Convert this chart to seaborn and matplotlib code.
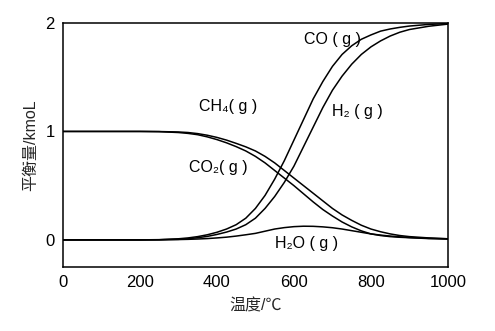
import matplotlib
matplotlib.use("Agg")
import matplotlib.pyplot as plt
import seaborn as sns
import pandas as pd

temperature = [0, 50, 100, 150, 200, 250,
               300, 325, 350, 375, 400, 425, 450, 475, 500, 525, 550, 575, 600,
               625, 650, 675, 700, 725, 750, 775, 800, 825, 850, 875, 900,
               950, 1000]
co = [0, 0, 0, 0, 0, 0.002,
      0.01, 0.018, 0.03, 0.047, 0.07, 0.10, 0.14, 0.20, 0.29, 0.41, 0.56, 0.73, 0.92,
      1.11, 1.30, 1.46, 1.60, 1.71, 1.79, 1.85, 1.89, 1.925, 1.945, 1.96, 1.972,
      1.987, 1.995]
h2 = [0, 0, 0, 0, 0, 0.001,
      0.005, 0.01, 0.02, 0.032, 0.05, 0.072, 0.10, 0.14, 0.20, 0.29, 0.40, 0.53, 0.68,
      0.86, 1.04, 1.22, 1.38, 1.51, 1.62, 1.71, 1.78, 1.835, 1.88, 1.915, 1.94,
      1.97, 1.99]
ch4 = [1, 1, 1, 1, 1, 0.999,
       0.995, 0.99, 0.98, 0.965, 0.945, 0.92, 0.89, 0.858, 0.82, 0.77, 0.71, 0.64, 0.57,
       0.50, 0.43, 0.36, 0.29, 0.23, 0.18, 0.135, 0.10, 0.075, 0.055, 0.04, 0.03,
       0.018, 0.01]
co2 = [1, 1, 1, 1, 1, 0.998,
       0.99, 0.982, 0.97, 0.95, 0.925, 0.895, 0.86, 0.82, 0.77, 0.71, 0.64, 0.57, 0.50,
       0.425, 0.35, 0.28, 0.22, 0.165, 0.12, 0.083, 0.055, 0.04, 0.03, 0.024, 0.02,
       0.012, 0.008]
h2o = [0, 0, 0, 0, 0, 0.001,
       0.003, 0.005, 0.008, 0.012, 0.018, 0.025, 0.035, 0.047, 0.06, 0.08, 0.10, 0.113, 0.122,
       0.126, 0.125, 0.12, 0.112, 0.10, 0.085, 0.07, 0.055, 0.044, 0.035, 0.028, 0.022,
       0.014, 0.01]

series = {"CO": co, "H2": h2, "CH4": ch4, "CO2": co2, "H2O": h2o}
labels = {"CO": "CO ( g )", "H2": "H\u2082 ( g )", "CH4": "CH\u2084( g )",
          "CO2": "CO\u2082( g )", "H2O": "H\u2082O ( g )"}
label_pos = {"CO": (700, 1.85), "H2": (766, 1.18), "CH4": (429, 1.23),
             "CO2": (403, 0.67), "H2O": (634, -0.03)}

x_ticks = [0, 200, 400, 600, 800, 1000]
y_ticks = [0, 1, 2]

for vals in series.values():
    assert len(vals) == len(temperature)

df = pd.concat([pd.DataFrame({"T": temperature, "v": vals, "s": name})
                for name, vals in series.items()], ignore_index=True)

sns.set_style("white")
plt.rcParams["font.family"] = ["Liberation Sans", "Noto Sans CJK SC", "DejaVu Sans"]

fig = plt.figure(figsize=(4.95, 3.31), dpi=100)
ax = fig.add_axes([0.127, 0.1934, 0.778, 0.7371])

sns.lineplot(data=df, x="T", y="v", hue="s", palette=["black"] * 5,
             legend=False, ax=ax, linewidth=1.1, estimator=None, sort=False)

ax.set_xlim(0, 1000)
ax.set_ylim(-0.25, 2)
ax.set_xticks(x_ticks)
ax.set_yticks(y_ticks)
ax.set_xticklabels([str(t) for t in x_ticks], fontsize=12)
ax.set_yticklabels([str(t) for t in y_ticks], fontsize=12)
ax.tick_params(axis="x", direction="in", length=5, width=1, pad=6, colors="black")
ax.tick_params(axis="y", length=0, pad=6, colors="black")
for sp in ax.spines.values():
    sp.set_color("black")
    sp.set_linewidth(1.1)

ax.set_xlabel("温度/℃", fontsize=11.5, labelpad=6)
ax.set_ylabel("平衡量/kmoL", fontsize=11.5, labelpad=5)

for name, (tx, ty) in label_pos.items():
    ax.text(tx, ty, labels[name], fontsize=11.5, ha="center", va="center", color="black")

fig.savefig("out.png", dpi=100)
